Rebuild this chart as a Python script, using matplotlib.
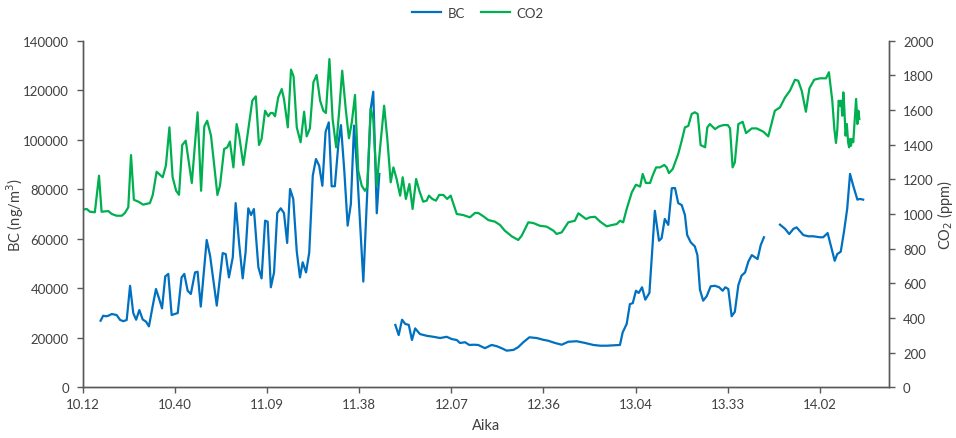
import numpy as np
import matplotlib
matplotlib.use("Agg")
import matplotlib.pyplot as plt
from matplotlib.ticker import FixedLocator, FixedFormatter

nan = np.nan

# minutes after 10:12
co2_t = [0.0, 1.25, 2.3, 3.8, 5.1, 5.9, 8.0, 9.1, 10.6, 12.2, 13.2, 14.25, 15.1, 16.0, 17.4, 18.9,
         21.0, 21.9, 23.1, 25.0, 26.0, 27.1, 28.1, 29.2, 30.1, 31.1, 32.2, 34.1, 35.9, 37.0, 38.0,
         38.9, 40.1, 42.1, 42.9, 44.2, 45.2, 46.0, 47.1, 48.1, 48.9, 50.2, 51.75, 53.0, 54.1, 55.1,
         55.9, 57.0, 58.0, 58.75, 59.4, 60.1, 61.1, 62.2, 62.9, 64.1, 65.1, 65.9, 66.9, 68.1, 69.2,
         70.0, 71.0, 72.1, 73.1, 74.2, 75.2, 76.0, 77.1, 78.1, 79.2, 80.2, 81.1, 82.2, 83.2, 84.1,
         85.1, 86.1, 87.2, 88.2, 88.9, 90.0, 90.8, 91.9, 92.9, 94.2, 95.2, 96.25, 97.1, 98.1, 99.2,
         100.0, 101.0, 102.1, 103.1, 104.2, 105.2, 106.4, 107.5, 108.2, 109.25, 110.4, 111.4,
         112.7, 113.9, 115.0, 116.9, 118.9, 121.0, 122.6, 123.6, 125.2, 126.75, 128.8, 130.4,
         131.9, 134.1, 136.1, 137.2, 139.25, 140.8, 142.9, 145.0, 147.1, 148.1, 149.7, 151.75,
         153.8, 154.9, 155.9, 157.3, 158.5, 160.1, 161.7, 163.75, 165.3, 166.9, 167.9, 168.9,
         170.0, 171.6, 172.9, 174.2, 175.0, 176.0, 177.3, 178.1, 179.2, 180.4, 181.75, 182.5,
         183.2, 184.4, 186.1, 187.2, 188.2, 189.25, 190.3, 191.3, 192.2, 193.1, 194.5, 195.2,
         196.0, 197.6, 198.9, 200.2, 201.6, 202.3, 203.1, 203.8, 204.9, 206.25, 207.3, 209.1,
         210.6, 212.7, 214.25, 216.3, 217.9, 219.5, 221.0, 222.6, 223.6, 224.7, 226.0, 227.1,
         228.6, 230.4, 232.3, 233.2, 234.25, 234.9, 235.4, 235.8, 236.25, 236.7, 237.0, 237.4,
         237.7, 238.0, 238.4, 238.8, 239.2, 239.5, 239.8, 240.1, 240.4, 240.8, 241.3, 241.7,
         242.1, 242.4, 242.7]
co2 = [1025, 1029, 1013, 1010, 1221, 1013, 1017, 1000, 990, 990, 1006, 1039, 1340, 1082, 1071, 1054,
       1063, 1110, 1244, 1212, 1279, 1500, 1212, 1134, 1111, 1398, 1423, 1179, 1587, 1134, 1506,
       1538, 1452, 1110, 1163, 1375, 1385, 1418, 1269, 1519, 1452, 1283, 1490, 1654, 1679, 1398,
       1433, 1596, 1564, 1583, 1583, 1564, 1673, 1721, 1664, 1500, 1833, 1794, 1500, 1414, 1590,
       1448, 1494, 1760, 1802, 1654, 1596, 1583, 1894, 1548, 1385, 1606, 1827, 1606, 1437, 1529,
       1687, 1250, 1163, 1134, 1154, 1606, 1548, 1163, 1375, 1625, 1433, 1183, 1269, 1202, 1106,
       1212, 1087, 1173, 1029, 1202, 1134, 1071, 1077, 1106, 1087, 1077, 1110,
       1110, 1087, 1106, 1000, 994, 981, 1006, 1006, 987, 965, 956, 937,
       904, 871, 850, 875, 952, 948, 932, 927, 904, 885, 894, 952,
       961, 1004, 990, 971, 981, 984, 956, 929, 936, 942, 961, 952,
       1029, 1125, 1169, 1158, 1231, 1179, 1179, 1221, 1269, 1269, 1283, 1269,
       1236, 1260, 1346, 1423, 1500, 1508, 1577, 1587, 1577, 1398, 1385, 1500,
       1519, 1490, 1506, 1513, 1513, 1494, 1269, 1298, 1519, 1532, 1467, 1494,
       1494, 1475, 1448, 1596, 1615, 1673, 1711, 1775, 1769, 1711, 1590, 1725,
       1775, 1783, 1783, 1818, 1654, 1490, 1410, 1481, 1654, 1625, 1654, 1567,
       1702, 1615, 1452, 1519, 1414, 1385, 1433, 1394, 1433, 1414, 1558, 1664,
       1519, 1596, 1548]

bc_t = [5.6, 6.4, 7.3, 8.0, 9.1, 10.6, 11.7, 12.7, 13.75, 14.8, 15.8, 16.7, 17.7, 18.75, 19.8, 20.7,
        21.9, 22.9, 23.9, 24.8, 25.8, 26.75, 27.8, 29.7, 30.9, 31.75, 32.8, 33.8, 35.1, 35.9, 36.9,
        38.75, 39.8, 41.9, 43.75, 44.7, 45.7, 46.9, 47.8, 48.9, 50.0, 50.9, 51.75, 52.6, 53.5, 54.9,
        55.9, 57.0, 57.8, 58.8, 59.8, 60.8, 61.9, 62.9, 63.9, 64.8, 65.8, 66.9, 67.9, 68.75, 69.8,
        70.8, 71.9, 72.9, 73.9, 74.9, 75.9, 76.9, 77.8, 78.8, 79.9, 80.7, 81.75, 82.8, 83.8, 84.8,
        85.8, 87.7, 88.9, 90.0, 90.8, 91.9, 92.7,
        95.0,
        97.7, 98.75, 99.8, 100.8, 101.9, 102.9, 103.9, 105.4, 107.5, 109.6, 111.7, 113.75, 115.3,
        116.9, 117.9, 119.5, 120.8, 122.1, 123.6, 125.7, 127.8, 129.4, 130.9, 132.5, 134.6, 136.1,
        137.7, 139.6, 141.9, 143.9, 145.5, 147.6, 149.7, 151.75, 154.4, 157.0, 159.6, 161.7,
        163.75, 167.9, 168.75, 170.0, 171.0, 171.9, 172.9, 173.75, 174.8, 175.8, 177.1, 178.8,
        180.1, 180.9, 181.9, 183.0, 184.1, 185.1, 186.1, 187.2, 188.2, 188.9, 190.0, 191.3, 192.1,
        192.9, 193.9, 195.0, 196.25, 197.6, 198.9, 200.0, 200.8, 201.75, 202.8, 203.8, 204.9,
        205.9, 207.0, 208.0, 209.1, 210.9, 211.9, 212.9,
        215.0,
        217.9, 219.5, 220.8, 222.1, 223.1, 225.2, 226.75, 228.3, 230.4, 231.4, 232.8, 233.8,
        235.0, 235.8, 236.9, 237.9, 238.9, 239.8, 240.8, 242.1, 242.9, 243.9]
bc = [26900, 28900, 28700, 28900, 29600, 29200, 27200, 26700, 27200, 41000, 30000, 27300, 31200,
      27400, 26500, 24600, 33000, 39700, 35700, 31900, 44800, 45800, 29200, 30000, 44400, 45800,
      39000, 37700, 46400, 46700, 32600, 59500, 53200, 33000, 54200, 53800, 44400, 52500, 74400,
      57900, 44000, 54500, 72300, 69600, 72000, 48500, 44000, 67300, 66900, 40400, 46400, 70400,
      72300, 70400, 58300, 80100, 76100, 54800, 44400, 50500, 46400, 54500, 85500, 92200, 89500,
      81400, 103200, 107000, 81200, 81200, 98300, 105900, 87500, 65300, 74000, 105700, 86800,
      42700, 78100, 112400, 119400, 70300, 86200,
      nan,
      25200, 21100, 27300, 25600, 25200, 19100, 23800, 21500, 20800, 20400, 19900, 20400, 19500,
      19100, 17900, 18200, 17100, 17200, 17100, 15800, 17100, 16600, 15800, 14800, 15100, 16200,
      18200, 20200, 19900, 19200, 18800, 17900, 17200, 18400, 18600, 17900, 17100, 16800,
      16800, 17100, 22200, 25600, 33600, 34000, 39000, 38100, 40400, 35400, 38100, 71300,
      59200, 60200, 68000, 65600, 80400, 80500, 74400, 73600, 69600, 61500, 58600, 56900, 53400,
      39400, 35000, 36800, 40800, 41000, 40400, 39000, 40400, 39700, 28700, 30500, 41300,
      45100, 46400, 50700, 53400, 51800, 57500, 60600,
      nan,
      65700, 64000, 61900, 64000, 64600, 61500, 61000, 61000, 60600, 60600, 62300, 57200,
      51100, 53800, 54800, 62800, 72000, 86200, 81400, 75800, 76100, 75800]

tick_pos = [0, 28.8, 57.6, 86.4, 115.2, 144.0, 172.8, 201.6, 230.4]
tick_labels = ["10.12", "10.40", "11.09", "11.38", "12.07", "12.36", "13.04", "13.33", "14.02"]

plt.rcParams["font.family"] = ["Lato", "DejaVu Sans"]
text_col = "#404040"
axis_col = "#595959"

fig = plt.figure(figsize=(9.56, 4.39), dpi=100)
ax = fig.add_axes([0.0865, 0.1155, 0.8435, 0.7895])
ax2 = ax.twinx()

l1, = ax.plot(bc_t, bc, color="#0070C0", lw=1.6, label="BC")
l2, = ax2.plot(co2_t, co2, color="#00B050", lw=1.6, label="CO2")

ax.set_xlim(0, 252)
ax.set_ylim(0, 140000)
ax2.set_ylim(0, 2000)
ax.set_yticks(np.arange(0, 140001, 20000))
ax2.set_yticks(np.arange(0, 2001, 200))
ax.xaxis.set_major_locator(FixedLocator(tick_pos))
ax.xaxis.set_major_formatter(FixedFormatter(tick_labels))

for a in (ax, ax2):
    a.spines["top"].set_visible(False)
    for s in a.spines.values():
        s.set_color(axis_col)
        s.set_linewidth(1.0)
    a.tick_params(colors=axis_col, labelcolor=text_col, labelsize=9.5, length=4, width=1.0)
ax.tick_params(axis="y", pad=6)
ax2.tick_params(axis="y", pad=6)

ax.set_xlabel("Aika", fontsize=10.5, color=text_col, labelpad=6)
ax.set_ylabel("BC (ng/m$^3$)", fontsize=10.5, color=text_col, va="center")
ax2.set_ylabel("CO$_2$ (ppm)", fontsize=10.5, color=text_col, va="center")
ax.yaxis.set_label_coords(-0.084, 0.5)
ax2.yaxis.set_label_coords(1.069, 0.5)

fig.legend(handles=[l1, l2], loc="center", bbox_to_anchor=(0.5, 0.968), ncol=2, frameon=False,
           fontsize=9.5, labelcolor=text_col, handlelength=2.2, columnspacing=1.2, handletextpad=0.5)

fig.savefig("out.png", dpi=100)
